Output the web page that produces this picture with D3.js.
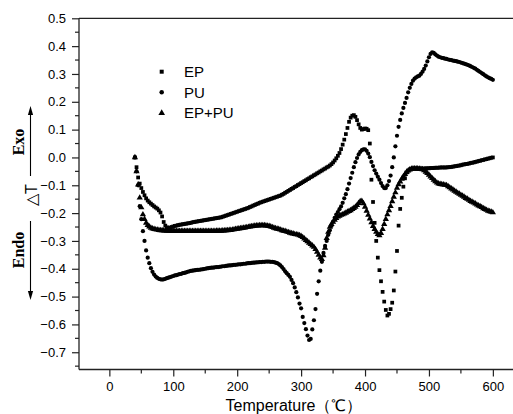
<!DOCTYPE html>
<html>
<head>
<meta charset="utf-8">
<script src="https://cdnjs.cloudflare.com/ajax/libs/d3/7.8.5/d3.min.js"></script>
<style>
  html, body { margin: 0; padding: 0; background: #fff; }
  svg { display: block; }
  text { font-family: "Liberation Sans", Arial, sans-serif; fill: #000; }
</style>
</head>
<body>
<svg id="chart" width="513" height="414"></svg>
<script>
// DTA traces of EP, PU and the EP+PU blend, sampled every 2.5 °C
const temperature = [
  40,42.5,45,47.5,50,52.5,55,57.5,60,62.5,65,67.5,70,72.5,75,77.5,80,82.5,85,87.5,
  90,92.5,95,97.5,100,102.5,105,107.5,110,112.5,115,117.5,120,122.5,125,127.5,130,132.5,135,137.5,
  140,142.5,145,147.5,150,152.5,155,157.5,160,162.5,165,167.5,170,172.5,175,177.5,180,182.5,185,187.5,
  190,192.5,195,197.5,200,202.5,205,207.5,210,212.5,215,217.5,220,222.5,225,227.5,230,232.5,235,237.5,
  240,242.5,245,247.5,250,252.5,255,257.5,260,262.5,265,267.5,270,272.5,275,277.5,280,282.5,285,287.5,
  290,292.5,295,297.5,300,302.5,305,307.5,310,312.5,315,317.5,320,322.5,325,327.5,330,332.5,335,337.5,
  340,342.5,345,347.5,350,352.5,355,357.5,360,362.5,365,367.5,370,372.5,375,377.5,380,382.5,385,387.5,
  390,392.5,395,397.5,400,402.5,405,407.5,410,412.5,415,417.5,420,422.5,425,427.5,430,432.5,435,437.5,
  440,442.5,445,447.5,450,452.5,455,457.5,460,462.5,465,467.5,470,472.5,475,477.5,480,482.5,485,487.5,
  490,492.5,495,497.5,500,502.5,505,507.5,510,512.5,515,517.5,520,522.5,525,527.5,530,532.5,535,537.5,
  540,542.5,545,547.5,550,552.5,555,557.5,560,562.5,565,567.5,570,572.5,575,577.5,580,582.5,585,587.5,
  590,592.5,595,597.5,600
];

const epValues = [
  0,-0.035,-0.072,-0.094,-0.110,-0.124,-0.136,-0.147,-0.155,-0.161,-0.166,-0.171,-0.176,-0.180,-0.184,-0.190,-0.198,-0.212,-0.232,-0.245,
  -0.251,-0.253,-0.252,-0.250,-0.248,-0.246,-0.245,-0.243,-0.242,-0.241,-0.240,-0.239,-0.238,-0.237,-0.236,-0.235,-0.233,-0.232,-0.231,-0.230,
  -0.229,-0.228,-0.227,-0.226,-0.225,-0.224,-0.223,-0.222,-0.221,-0.220,-0.219,-0.218,-0.217,-0.216,-0.215,-0.213,-0.211,-0.209,-0.207,-0.205,
  -0.203,-0.201,-0.199,-0.197,-0.195,-0.193,-0.191,-0.189,-0.187,-0.185,-0.183,-0.181,-0.178,-0.176,-0.173,-0.171,-0.168,-0.166,-0.163,-0.161,
  -0.159,-0.157,-0.155,-0.153,-0.151,-0.149,-0.147,-0.145,-0.143,-0.141,-0.139,-0.137,-0.134,-0.131,-0.127,-0.124,-0.120,-0.117,-0.113,-0.110,
  -0.106,-0.103,-0.099,-0.096,-0.092,-0.089,-0.085,-0.082,-0.078,-0.075,-0.071,-0.068,-0.064,-0.061,-0.057,-0.054,-0.050,-0.047,-0.043,-0.040,
  -0.036,-0.033,-0.029,-0.024,-0.018,-0.011,-0.003,0.006,0.016,0.030,0.046,0.064,0.084,0.106,0.128,0.143,0.150,0.152,0.146,0.134,
  0.119,0.106,0.100,0.102,0.104,0.103,0.098,0.050,-0.080,-0.160,-0.235,-0.300,-0.360,-0.405,-0.445,-0.483,-0.518,-0.548,-0.568,-0.562,
  -0.545,-0.522,-0.478,-0.410,-0.336,-0.245,-0.185,-0.145,-0.105,-0.075,-0.054,-0.047,-0.043,-0.041,-0.040,-0.040,-0.040,-0.040,-0.040,-0.040,
  -0.040,-0.040,-0.039,-0.039,-0.039,-0.038,-0.038,-0.038,-0.037,-0.037,-0.037,-0.036,-0.036,-0.036,-0.036,-0.036,-0.035,-0.035,-0.034,-0.033,
  -0.032,-0.031,-0.030,-0.029,-0.028,-0.026,-0.025,-0.024,-0.023,-0.022,-0.020,-0.019,-0.018,-0.016,-0.015,-0.013,-0.012,-0.010,-0.009,-0.007,
  -0.006,-0.004,-0.003,-0.001,0.000
];

const puValues = [
  0,-0.050,-0.100,-0.175,-0.222,-0.265,-0.300,-0.334,-0.360,-0.380,-0.398,-0.411,-0.421,-0.428,-0.433,-0.436,-0.438,-0.439,-0.438,-0.436,
  -0.434,-0.432,-0.430,-0.428,-0.426,-0.424,-0.423,-0.421,-0.419,-0.418,-0.416,-0.415,-0.413,-0.411,-0.409,-0.408,-0.407,-0.406,-0.405,-0.404,
  -0.404,-0.403,-0.402,-0.401,-0.400,-0.399,-0.398,-0.397,-0.396,-0.396,-0.395,-0.394,-0.394,-0.393,-0.392,-0.391,-0.391,-0.390,-0.389,-0.388,
  -0.388,-0.387,-0.386,-0.386,-0.385,-0.384,-0.384,-0.383,-0.382,-0.382,-0.381,-0.380,-0.380,-0.379,-0.378,-0.378,-0.377,-0.377,-0.376,-0.376,
  -0.375,-0.375,-0.374,-0.374,-0.374,-0.375,-0.375,-0.376,-0.378,-0.380,-0.383,-0.388,-0.394,-0.401,-0.409,-0.416,-0.422,-0.429,-0.440,-0.452,
  -0.467,-0.484,-0.503,-0.525,-0.542,-0.573,-0.595,-0.617,-0.640,-0.656,-0.652,-0.618,-0.585,-0.545,-0.490,-0.445,-0.407,-0.375,-0.343,-0.318,
  -0.300,-0.278,-0.262,-0.246,-0.231,-0.217,-0.205,-0.196,-0.186,-0.176,-0.163,-0.147,-0.132,-0.114,-0.094,-0.074,-0.055,-0.035,-0.017,-0.002,
  0.011,0.020,0.026,0.029,0.029,0.024,0.014,0.001,-0.016,-0.031,-0.046,-0.058,-0.069,-0.080,-0.092,-0.103,-0.110,-0.110,-0.100,-0.085,
  -0.065,-0.035,0.000,0.040,0.078,0.110,0.135,0.158,0.178,0.196,0.214,0.234,0.250,0.264,0.276,0.283,0.288,0.291,0.294,0.300,
  0.308,0.318,0.330,0.345,0.360,0.372,0.378,0.376,0.370,0.366,0.362,0.360,0.358,0.357,0.355,0.354,0.352,0.351,0.350,0.348,
  0.347,0.346,0.344,0.343,0.341,0.339,0.337,0.335,0.333,0.331,0.328,0.325,0.322,0.319,0.315,0.311,0.307,0.303,0.299,0.295,
  0.291,0.288,0.285,0.282,0.279
];

const blendValues = [
  0,-0.050,-0.098,-0.145,-0.180,-0.205,-0.222,-0.235,-0.243,-0.249,-0.253,-0.256,-0.258,-0.259,-0.260,-0.261,-0.262,-0.262,-0.263,-0.263,
  -0.264,-0.264,-0.264,-0.265,-0.265,-0.265,-0.265,-0.265,-0.265,-0.265,-0.265,-0.265,-0.265,-0.265,-0.265,-0.265,-0.265,-0.265,-0.265,-0.265,
  -0.265,-0.265,-0.265,-0.265,-0.265,-0.265,-0.265,-0.265,-0.265,-0.265,-0.265,-0.264,-0.264,-0.264,-0.264,-0.263,-0.263,-0.262,-0.262,-0.261,
  -0.261,-0.260,-0.259,-0.258,-0.257,-0.256,-0.255,-0.254,-0.253,-0.252,-0.251,-0.250,-0.249,-0.248,-0.247,-0.246,-0.245,-0.245,-0.244,-0.244,
  -0.244,-0.244,-0.245,-0.246,-0.247,-0.249,-0.251,-0.253,-0.255,-0.257,-0.258,-0.260,-0.262,-0.264,-0.265,-0.267,-0.269,-0.271,-0.273,-0.274,
  -0.276,-0.277,-0.278,-0.280,-0.283,-0.287,-0.292,-0.297,-0.302,-0.307,-0.312,-0.317,-0.322,-0.330,-0.340,-0.350,-0.360,-0.366,-0.352,-0.325,
  -0.290,-0.268,-0.250,-0.240,-0.232,-0.225,-0.218,-0.213,-0.210,-0.207,-0.205,-0.202,-0.199,-0.196,-0.193,-0.190,-0.186,-0.182,-0.178,-0.172,
  -0.164,-0.158,-0.157,-0.165,-0.178,-0.192,-0.207,-0.220,-0.234,-0.247,-0.258,-0.268,-0.276,-0.280,-0.272,-0.258,-0.240,-0.222,-0.205,-0.190,
  -0.175,-0.158,-0.142,-0.126,-0.110,-0.097,-0.087,-0.077,-0.068,-0.060,-0.053,-0.048,-0.044,-0.041,-0.040,-0.040,-0.040,-0.040,-0.041,-0.042,
  -0.043,-0.047,-0.052,-0.057,-0.063,-0.069,-0.075,-0.081,-0.086,-0.091,-0.094,-0.096,-0.097,-0.098,-0.099,-0.100,-0.104,-0.108,-0.112,-0.116,
  -0.120,-0.124,-0.128,-0.131,-0.135,-0.138,-0.142,-0.146,-0.149,-0.153,-0.157,-0.160,-0.163,-0.166,-0.170,-0.173,-0.176,-0.179,-0.183,-0.186,
  -0.189,-0.192,-0.194,-0.196,-0.198
];

const seriesNames = ["EP", "PU", "EP+PU"];
const xTickValues = [0, 100, 200, 300, 400, 500, 600];
const yTickValues = [-0.7, -0.6, -0.5, -0.4, -0.3, -0.2, -0.1, 0.0, 0.1, 0.2, 0.3, 0.4, 0.5];

const svg = d3.select("#chart");
const axisColor = "#222";

const plot = { left: 79, right: 513, top: 18.3, bottom: 369.5 };

const x = d3.scaleLinear().domain([-47.5, 631.5]).range([plot.left, plot.right]);
const y = d3.scaleLinear().domain([-0.762, 0.5]).range([plot.bottom, plot.top]);

const series = [
  { name: seriesNames[0], values: epValues, symbol: d3.symbolSquare, size: 14 },
  { name: seriesNames[1], values: puValues, symbol: d3.symbolCircle, size: 14 },
  { name: seriesNames[2], values: blendValues, symbol: d3.symbolTriangle, size: 17 }
];

// frame line along the top
svg.append("line")
  .attr("x1", plot.left).attr("x2", plot.right)
  .attr("y1", plot.top).attr("y2", plot.top)
  .attr("stroke", axisColor).attr("stroke-width", 1.3);

// y axis: major ticks every 0.1, minor every 0.05
const yMinor = d3.range(-0.75, 0.5, 0.1).map(v => +v.toFixed(2));
const yAxisG = svg.append("g").attr("transform", `translate(${plot.left},0)`);
yAxisG.append("line")
  .attr("x1", 0).attr("x2", 0).attr("y1", plot.top).attr("y2", plot.bottom)
  .attr("stroke", axisColor).attr("stroke-width", 1.3);
yAxisG.call(d3.axisLeft(y).tickValues(yTickValues).tickSize(7).tickPadding(6)
    .tickFormat(d3.format(".1f")))
  .call(g => g.select(".domain").remove())
  .call(g => g.selectAll(".tick line").attr("stroke", axisColor).attr("stroke-width", 1.2))
  .call(g => g.selectAll(".tick text").attr("font-size", 13)
    .style("font-family", "'Liberation Sans', Arial, sans-serif").attr("fill", "#000"));
yAxisG.selectAll(".minor").data(yMinor).enter().append("line")
  .attr("class", "minor")
  .attr("x1", -4).attr("x2", 0)
  .attr("y1", d => y(d)).attr("y2", d => y(d))
  .attr("stroke", axisColor).attr("stroke-width", 1.2);

// x axis: major ticks every 100, minor every 50
const xMinor = [50, 150, 250, 350, 450, 550];
const xAxisG = svg.append("g").attr("transform", `translate(0,${plot.bottom})`);
xAxisG.append("line")
  .attr("x1", plot.left).attr("x2", plot.right).attr("y1", 0).attr("y2", 0)
  .attr("stroke", axisColor).attr("stroke-width", 1.3);
xAxisG.call(d3.axisBottom(x).tickValues(xTickValues).tickSize(7).tickPadding(5))
  .call(g => g.select(".domain").remove())
  .call(g => g.selectAll(".tick line").attr("stroke", axisColor).attr("stroke-width", 1.2))
  .call(g => g.selectAll(".tick text").attr("font-size", 13)
    .style("font-family", "'Liberation Sans', Arial, sans-serif").attr("fill", "#000"));
xAxisG.selectAll(".minor").data(xMinor).enter().append("line")
  .attr("class", "minor")
  .attr("x1", d => x(d)).attr("x2", d => x(d))
  .attr("y1", 0).attr("y2", 4)
  .attr("stroke", axisColor).attr("stroke-width", 1.2);

// x axis title
svg.append("text")
  .attr("x", 294).attr("y", 411)
  .attr("text-anchor", "middle")
  .attr("font-size", 16)
  .text("Temperature（℃）");

// y axis title with exo / endo direction arrows
svg.append("text")
  .attr("transform", "translate(37,195) rotate(-90)")
  .attr("text-anchor", "middle")
  .attr("font-size", 16)
  .text("△T");

const serif = "'Liberation Serif', 'Times New Roman', serif";
svg.append("text")
  .attr("transform", "translate(24,142) rotate(-90)")
  .attr("text-anchor", "middle")
  .style("font-family", serif)
  .attr("font-weight", "bold")
  .attr("font-size", 16)
  .text("Exo");
svg.append("text")
  .attr("transform", "translate(24,250) rotate(-90)")
  .attr("text-anchor", "middle")
  .style("font-family", serif)
  .attr("font-weight", "bold")
  .attr("font-size", 16)
  .text("Endo");

function arrow(x0, yFrom, yTo) {
  const dir = yTo < yFrom ? -1 : 1;
  svg.append("line")
    .attr("x1", x0).attr("x2", x0)
    .attr("y1", yFrom).attr("y2", yTo - dir * 6)
    .attr("stroke", "#000").attr("stroke-width", 1.1);
  svg.append("path")
    .attr("d", `M${x0},${yTo} L${x0 - 2.6},${yTo - dir * 9} L${x0 + 2.6},${yTo - dir * 9} Z`)
    .attr("fill", "#000");
}
arrow(30.5, 176, 106);
arrow(30.5, 221, 300);

// data markers
const pts = svg.append("g");
series.forEach(s => {
  const sym = d3.symbol().type(s.symbol).size(s.size);
  pts.append("g").selectAll("path")
    .data(temperature.map((t, i) => [t, s.values[i]]))
    .enter().append("path")
    .attr("d", sym)
    .attr("transform", d => `translate(${x(d[0])},${y(d[1])})`)
    .attr("fill", "#000");
});

// legend
const legend = svg.append("g");
const legendY = [71.7, 92.3, 113];
series.forEach((s, i) => {
  legend.append("path")
    .attr("d", d3.symbol().type(s.symbol).size(s.size + 2)())
    .attr("transform", `translate(161.7,${legendY[i]})`)
    .attr("fill", "#000");
  legend.append("text")
    .attr("x", 184).attr("y", legendY[i])
    .attr("dy", "0.36em")
    .attr("font-size", 15)
    .text(s.name);
});
</script>
</body>
</html>
